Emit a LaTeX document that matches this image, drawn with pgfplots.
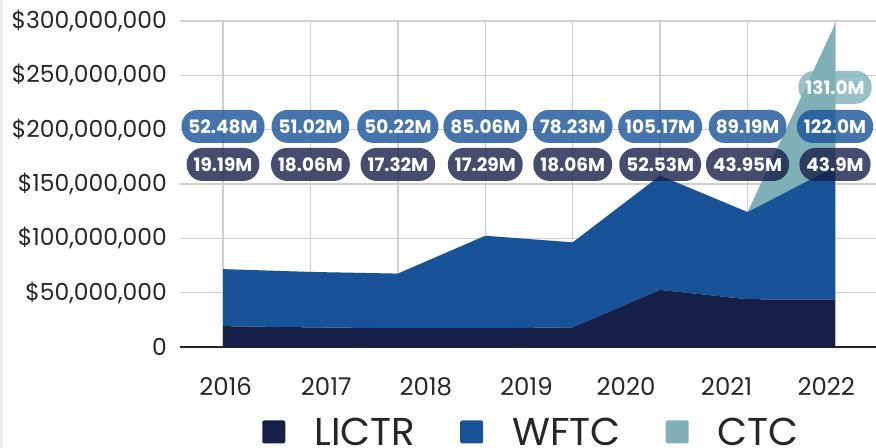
\documentclass[border=0pt]{standalone}
\usepackage{pgfplots}
\pgfplotsset{compat=1.18}
\usepackage{pgfplotstable}
\usepackage{fontspec}
\setmainfont{Poppins}
\definecolor{lictr}{HTML}{161F48}
\definecolor{wftc}{HTML}{185398}
\definecolor{ctc}{HTML}{7FB0B8}
\definecolor{gridc}{HTML}{CFCFCF}
\definecolor{txt}{HTML}{262626}
\definecolor{strip}{HTML}{E4EDF1}

\pgfplotstableread{
x lictr wftc ctc
0 19.19 52.48 0
1 18.06 51.02 0
2 17.32 50.22 0
3 17.29 85.06 0
4 18.06 78.23 0
5 52.53 105.17 0
6 43.95 80.2 0
7 43.9 122.0 131.0
}\areadata

\pgfplotstableread{
x y label
0 168 19.19M
1 168 18.06M
2 168 17.32M
3 168 17.29M
4 168 18.06M
5 168 52.53M
6 168 43.95M
7 168 43.9M
}\lictrlab

\pgfplotstableread{
x y label
0 203 52.48M
1 203 51.02M
2 203 50.22M
3 203 85.06M
4 203 78.23M
5 203 105.17M
6 203 89.19M
7 203 122.0M
}\wftclab

\pgfplotstableread{
x y label
7 239 131.0M
}\ctclab

\tikzset{pill/.style={rounded corners=16bp, minimum height=33bp, inner xsep=7bp, inner ysep=0pt,
  fill opacity=0.8, text opacity=1, text=white, anchor=center,
  font=\fontsize{18.5}{18.5}\selectfont\bfseries}}

\begin{document}
\begin{tikzpicture}
\useasboundingbox (-180bp,-101bp) rectangle (696bp,347bp);
\fill[strip] (-180bp,-101bp) rectangle (-177bp,347bp);
\begin{axis}[
  at={(0,0)}, anchor=south west,
  scale only axis, width=696bp, height=326bp,
  xmin=-0.492, xmax=7.469, ymin=0, ymax=300,
  stack plots=y,
  axis x line*=bottom, axis y line*=left,
  y axis line style={draw=none},
  x axis line style={-, draw=txt, line width=1.6bp},
  major tick length=0pt,
  xtick={0,...,7}, xticklabels={{},{},{},{},{},{},{},{}},
  extra x ticks={0.03,1.18,2.32,3.47,4.61,5.76,6.9},
  extra x tick labels={2016,2017,2018,2019,2020,2021,2022},
  extra x tick style={grid=none, major tick length=0pt},
  ytick={0,50,...,300},
  yticklabels={0,{\$50,000,000},{\$100,000,000},{\$150,000,000},{\$200,000,000},{\$250,000,000},{\$300,000,000}},
  xmajorgrids, ymajorgrids,
  grid style={gridc, line width=1.5bp},
  yticklabel style={font=\fontsize{23.5}{23.5}\selectfont, text=txt, inner xsep=0pt, xshift=-13bp},
  xticklabel style={font=\fontsize{24.5}{24.5}\selectfont, text=txt, yshift=-27bp},
  legend style={at={(0.505,-0.262)}, anchor=center, draw=none, fill=none,
    font=\fontsize{39}{39}\selectfont, text=txt,
    legend columns=-1,
    /tikz/every even column/.append style={column sep=43bp},
    /tikz/every odd column/.append style={column sep=27bp}},
  legend image code/.code={\fill[#1, rounded corners=2bp] (0bp,-11bp) rectangle (23bp,12bp);},
]
\addplot[fill=lictr, draw=none] table[x=x,y=lictr]{\areadata} \closedcycle;
\addlegendentry{LICTR}
\addplot[fill=wftc, draw=none] table[x=x,y=wftc]{\areadata} \closedcycle;
\addlegendentry{WFTC}
\addplot[fill=ctc, draw=none] table[x=x,y=ctc]{\areadata} \closedcycle;
\addlegendentry{CTC}

\addplot[stack plots=false, draw=none, mark=none, forget plot, nodes near coords,
  point meta=explicit symbolic,
  every node near coord/.style={pill, fill=lictr}] table[x=x,y=y,meta=label]{\lictrlab};
\addplot[stack plots=false, draw=none, mark=none, forget plot, nodes near coords,
  point meta=explicit symbolic,
  every node near coord/.style={pill, fill=wftc}] table[x=x,y=y,meta=label]{\wftclab};
\addplot[stack plots=false, draw=none, mark=none, forget plot, nodes near coords,
  point meta=explicit symbolic,
  every node near coord/.style={pill, fill=ctc}] table[x=x,y=y,meta=label]{\ctclab};
\end{axis}
\end{tikzpicture}
\end{document}
